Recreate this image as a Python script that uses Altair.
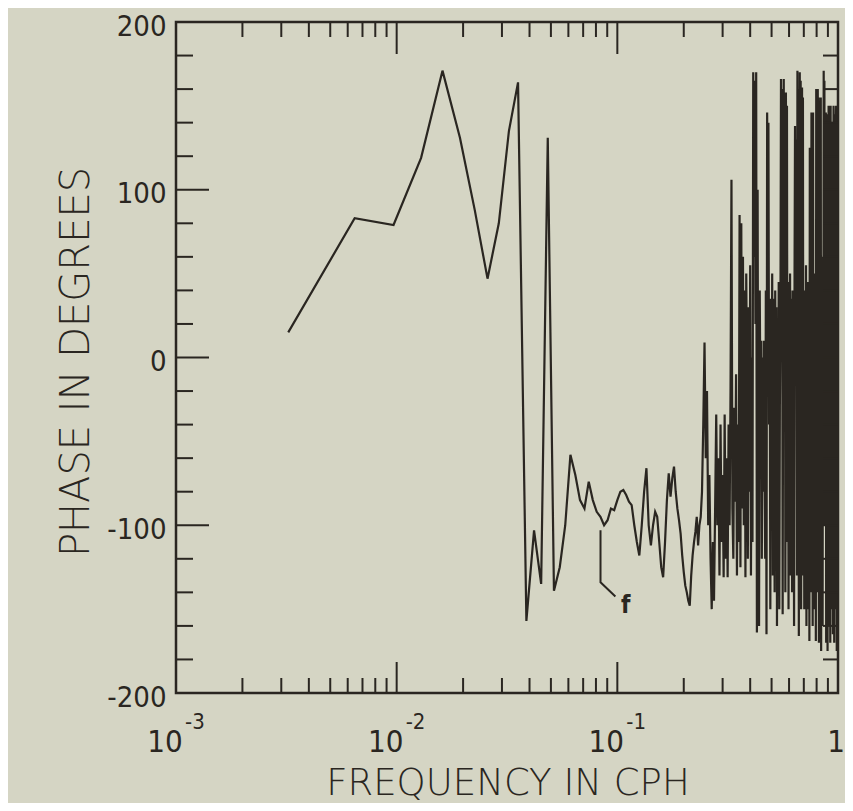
import altair as alt
import pandas as pd

# ---------------- data ----------------
DF = 1 / 310.0  # frequency resolution in cph; point k sits at k*DF

phase_a = [15, 83, 79, 119, 171, 131, 88, 47, 80, 135, 164]
phase_b = [-157, -103, -135, 131, -139, -125, -100, -58, -70, -85,
           -90, -74, -85, -92, -95, -100, -97, -90, -91, -85,
           -80, -79, -82, -86, -88, -100, -110, -118, -100, -80,
           -66, -100, -112, -100, -92, -95, -110, -125, -131]
phase_c = [-110, -85, -69, -83, -72, -65, -80, -90, -97, -105,
           -118, -128, -136, -140, -145, -148, -130, -118, -110, -104,
           -95, -112, -100, -95, -80, -40, 9, -60, -20, -100,
           -70, -120, -150, -110, -145, -90, -34, -100, -60, -130,
           -40, -110, -70, -131, -34, -120, -60, -131, -40, -100]
phase_d = [-20, 106, -90, -120, -30, -86, -10, -130, -40, -110,
           85, -125, 80, -90, 60, -100, 40, -131, 50, -20,
           -120, 30, -80, 55, -130, 0, -110, 170, 60, 165,
           20, 170, -164, 100, -120, -160, 40, -30, 10, -120,
           0, -80, 10, -60, -120, 40, -165, 146, 30, 140]
phase_e = [-40, 20, -150, 35, -90, 50, -130, 35, -20, -140,
           40, -60, 30, -160, 0, -100, 45, -150, -30, 20,
           166, 40, 160, -153, 30, 166, 10, 150, -140, 158,
           20, 150, -110, 45, -150, 10, -90, 50, -130, -20,
           35, -140, 40, -100, 0, -160, 50, 138, 20, 130]
phase_f = [30, -130, 171, 40, 160, -166, 60, 170, 10, 165,
           -150, 50, 161, 20, 155, -130, 40, -150, 30, -100,
           -90, 55, -160, 20, -120, 45, -30, -150, 40, -169,
           125, 30, 120, -140, 146, 20, 140, -160, 146, -130,
           30, -150, 50, -90, 10, -169, 160, 40, 153, -140]
phase_g = [160, 30, 155, -170, 150, 20, 153, -150, 155, -175,
           40, -120, 20, -160, 60, -80, 171, 30, 165, -100,
           140, 40, 146, -170, 130, -60, 145, -175, 140, -90,
           150, -160, 140, 20, 150, -170, 150, -100, 40, -150,
           135, -120, 140, -165, 30, 150, 140, -170, 145, -130,
           140, -150, 100, 150, 40, -175, 120, -140, 140, -60]

phase = phase_a + phase_b + phase_c + phase_d + phase_e + phase_f + phase_g
freq = [(i + 1) * DF for i in range(len(phase))]

x_major_ticks = [0.01, 0.1]
x_minor_ticks = [0.002, 0.003, 0.004, 0.005, 0.006, 0.007, 0.008, 0.009,
                 0.02, 0.03, 0.04, 0.05, 0.06, 0.07, 0.08, 0.09,
                 0.2, 0.3, 0.4, 0.5, 0.6, 0.7, 0.8, 0.9]
y_major_ticks = [-100, 0, 100]
y_minor_ticks = [-180, -160, -140, -120, -80, -60, -40, -20,
                 20, 40, 60, 80, 120, 140, 160, 180]
y_labels = [-200, -100, 0, 100, 200]

decade_pos = [0.001, 0.01, 0.1]
decade_base = ["10", "10", "10"]
decade_exp = ["-3", "-2", "-1"]

leader_f = [0.0839, 0.0839, 0.098]
leader_v = [-103, -134, -142.5]
f_label_pos = [0.109]
f_label_val = [-148]

# ---------------- styling ----------------
W, H = 662, 671
INK = "#2a2621"
BG = "#d5d5c4"
FONT = "DejaVu Sans Condensed, DejaVu Sans"
TFONT = "DejaVu Sans"

xs = alt.Scale(type="log", domain=[0.001, 1])
ys = alt.Scale(domain=[-200, 200])
y_axis = alt.Axis(values=y_labels, ticks=False, domain=False, grid=False,
                  labelFontSize=29, labelFont=FONT, labelColor=INK,
                  labelFontWeight=300, labelExpr="toString(datum.value)",
                  labelPadding=10, labelOffset=4, title=None)


def X(field):
    return alt.X(field, scale=xs, axis=None)


def Y(field):
    return alt.Y(field, scale=ys, axis=y_axis)


line_df = pd.DataFrame({"freq": freq, "phase": phase})
line = alt.Chart(line_df).mark_line(color=INK, strokeWidth=2.2, clip=True).encode(
    x=X("freq:Q"), y=Y("phase:Q"))

xmaj = pd.DataFrame({"f": x_major_ticks})
xmin = pd.DataFrame({"f": x_minor_ticks})
ymaj = pd.DataFrame({"v": y_major_ticks})
ymin = pd.DataFrame({"v": y_minor_ticks})
yall = pd.DataFrame({"v": y_minor_ticks + y_major_ticks})

rule = dict(color=INK, strokeWidth=2)
bot_min = alt.Chart(xmin).mark_rule(**rule).encode(x=X("f:Q"), y=alt.value(H), y2=alt.value(H - 15))
bot_maj = alt.Chart(xmaj).mark_rule(**rule).encode(x=X("f:Q"), y=alt.value(H), y2=alt.value(H - 31))
top_min = alt.Chart(xmin).mark_rule(**rule).encode(x=X("f:Q"), y=alt.value(0), y2=alt.value(15))
top_maj = alt.Chart(xmaj).mark_rule(**rule).encode(x=X("f:Q"), y=alt.value(0), y2=alt.value(32))
left_min = alt.Chart(ymin).mark_rule(**rule).encode(y=Y("v:Q"), x=alt.value(0), x2=alt.value(17))
left_maj = alt.Chart(ymaj).mark_rule(**rule).encode(y=Y("v:Q"), x=alt.value(0), x2=alt.value(33))
right_t = alt.Chart(yall).mark_rule(**rule).encode(y=Y("v:Q"), x=alt.value(W), x2=alt.value(W - 15))

dec_df = pd.DataFrame({"f": decade_pos, "b": decade_base, "e": decade_exp})
base_txt = alt.Chart(dec_df).mark_text(font=FONT, fontSize=31, fontWeight=300, color=INK,
                                       align="center", baseline="middle", dx=-11).encode(
    x=X("f:Q"), y=alt.value(H + 50), text="b:N")
exp_txt = alt.Chart(dec_df).mark_text(font=FONT, fontSize=22, fontWeight=300, color=INK,
                                      align="left", baseline="middle", dx=9).encode(
    x=X("f:Q"), y=alt.value(H + 29), text="e:N")
one_txt = alt.Chart(pd.DataFrame({"f": [1.0], "t": ["1"]})).mark_text(
    font=FONT, fontSize=31, fontWeight=300, color=INK, align="center", baseline="middle",
    dx=-2).encode(x=X("f:Q"), y=alt.value(H + 50), text="t:N")

ytitle = alt.Chart(pd.DataFrame({"t": ["PHASE IN DEGREES"]})).mark_text(
    font=TFONT, fontSize=40, fontWeight=300, color=INK, angle=270, align="center",
    baseline="middle").encode(x=alt.value(-99), y=alt.value(340), text="t:N")
xtitle = alt.Chart(pd.DataFrame({"t": ["FREQUENCY IN CPH"]})).mark_text(
    font=TFONT, fontSize=37, fontWeight=300, color=INK, align="center",
    baseline="middle").encode(x=alt.value(332), y=alt.value(762), text="t:N")

lead_df = pd.DataFrame({"f": leader_f, "v": leader_v, "i": list(range(len(leader_f)))})
leader = alt.Chart(lead_df).mark_line(color=INK, strokeWidth=2).encode(
    x=X("f:Q"), y=Y("v:Q"), order="i:Q")
f_txt = alt.Chart(pd.DataFrame({"f": f_label_pos, "v": f_label_val, "t": ["f"]})).mark_text(
    font=FONT, fontSize=24, fontWeight="bold", color=INK, align="center", baseline="middle").encode(
    x=X("f:Q"), y=Y("v:Q"), text="t:N")

chart = alt.layer(
    line, bot_min, bot_maj, top_min, top_maj, left_min, left_maj, right_t,
    base_txt, exp_txt, one_txt, ytitle, xtitle, leader, f_txt
).properties(
    width=W, height=H,
    padding={"left": 168, "top": 14, "right": 7, "bottom": 110},
    autosize=alt.AutoSizeParams(type="none"),
    background=BG,
).configure_view(stroke=INK, strokeWidth=2.5)

chart.save("out.html", embed_options={"renderer": "svg", "actions": False})
